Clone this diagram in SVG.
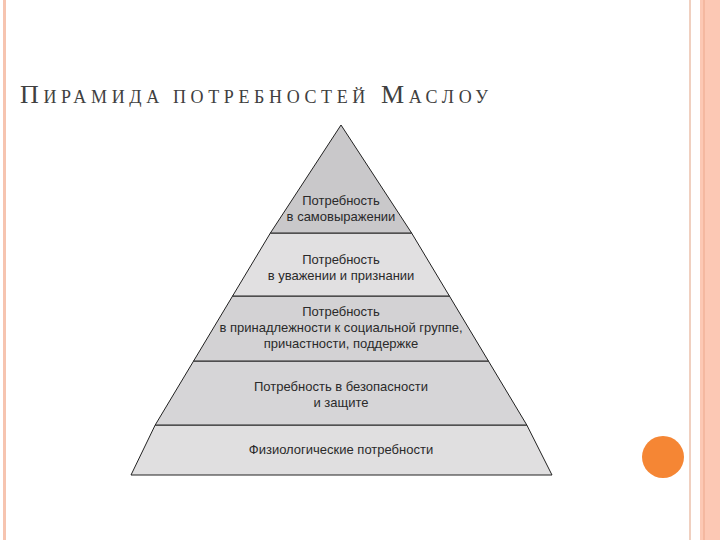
<svg xmlns="http://www.w3.org/2000/svg" width="720" height="540" viewBox="0 0 720 540">
<style>
.t{font-family:"Liberation Serif",serif;fill:#404040}
.l{font-family:"Liberation Sans Narrow","Liberation Sans",sans-serif;font-size:13px;fill:#2a2a2a;text-anchor:middle;font-stretch:condensed}
.b{stroke:#222;stroke-width:1}
</style>
<rect width="720" height="540" fill="#fff"/>
<rect x="3" y="0" width="3" height="540" fill="#f6c4b0"/>
<rect x="689" y="0" width="2" height="540" fill="#f0d0c0"/>
<rect x="700" y="0" width="20" height="540" fill="#fcc8b4"/>
<rect x="703" y="0" width="2" height="540" fill="#f4b8a0"/>
<circle cx="663" cy="457" r="21" fill="#f58634"/>
<text class="t" x="20" y="103" font-size="26" textLength="468" lengthAdjust="spacing">П<tspan font-size="18">ИРАМИДА ПОТРЕБНОСТЕЙ</tspan> М<tspan font-size="18">АСЛОУ</tspan></text>
<g id="level5"><polygon class="b" points="155.2,425 526.8,425 552,475 131,475" fill="#e0dfe0"/><text class="l" x="341" y="454">Физиологические потребности</text></g>
<g id="level4"><polygon class="b" points="193.6,361 488.4,361 526.8,425 155.2,425" fill="#d6d5d7"/><text class="l" x="341" y="391">Потребность в безопасности</text><text class="l" x="341" y="407">и защите</text></g>
<g id="level3"><polygon class="b" points="232.6,296 449.4,296 488.4,361 193.6,361" fill="#d3d2d4"/><text class="l" x="341" y="316">Потребность</text><text class="l" x="341" y="332">в принадлежности к социальной группе,</text><text class="l" x="341" y="348">причастности, поддержке</text></g>
<g id="level2"><polygon class="b" points="270.4,233 411.6,233 449.4,296 232.6,296" fill="#e1e0e1"/><text class="l" x="341" y="264">Потребность</text><text class="l" x="341" y="280">в уважении и признании</text></g>
<g id="level1"><polygon class="b" points="341,125 411.6,233 270.4,233" fill="#c9c8ca"/><text class="l" x="341" y="205">Потребность</text><text class="l" x="341" y="221">в самовыражении</text></g>
</svg>
